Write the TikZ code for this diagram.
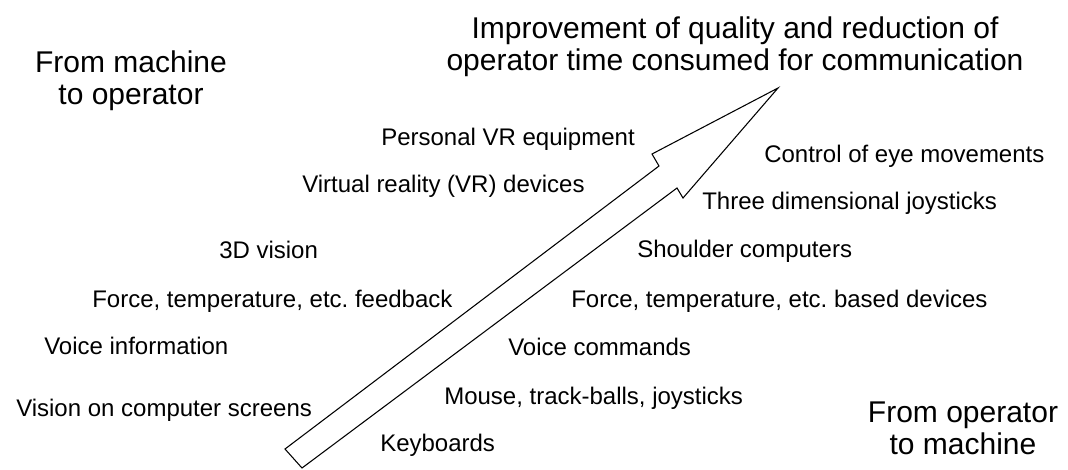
\documentclass[tikz,border=0pt]{standalone}
\usepackage{fontspec}
\setmainfont{Liberation Sans}
\frenchspacing

\begin{document}
\begin{tikzpicture}[x=0.75pt, y=-0.75pt,
  bigtext/.style={font=\fontsize{22.5}{24}\selectfont, align=center, inner sep=0pt, anchor=north},
  item/.style={font=\fontsize{18}{20}\selectfont, inner sep=0pt, anchor=base west}]

  \useasboundingbox (0,0) rectangle (1068,469);

  % hollow arrow
  \coordinate (tl) at (285,449);
  \coordinate (tb) at (302,468);
  \coordinate (nl) at (659,166);
  \coordinate (hl) at (652,154);
  \coordinate (tip) at (778,88);
  \coordinate (hr) at (683,198);
  \coordinate (nr) at (677,188);
  \draw[line width=0.8pt, line join=miter]
  (tl) -- (nl) -- (hl) -- (tip) -- (hr) -- (nr) -- (tb) -- cycle;

  \node[bigtext] (goal) at (735,16)
  {Improvement of quality and reduction of\\operator time consumed for communication};
  \node[bigtext] (mach2op) at (131,50) {From machine\\to operator};
  \node[bigtext] (op2mach) at (963,402) {From operator\\to machine};

  % machine to operator
  \node[item] (pvr) at (381,145) {Personal VR equipment};
  \node[item] (vrdev) at (302,192) {Virtual reality (VR) devices};
  \node[item] (vision3d) at (219,258) {3D vision};
  \node[item] (feedback) at (92,307) {Force, temperature, etc. feedback};
  \node[item] (voiceinf) at (44,354) {Voice information};
  \node[item] (screens) at (16,416) {Vision on computer screens};

  % operator to machine
  \node[item] (eyes) at (764,162) {Control of eye movements};
  \node[item] (joy3d) at (702,209) {Three dimensional joysticks};
  \node[item] (shoulder) at (637,257) {Shoulder computers};
  \node[item] (forcedev) at (571,307) {Force, temperature, etc. based devices};
  \node[item] (voicecmd) at (508,355) {Voice commands};
  \node[item] (mouse) at (444,404) {Mouse, track-balls, joysticks};
  \node[item] (keyb) at (380,451) {Keyboards};

\end{tikzpicture}
\end{document}
